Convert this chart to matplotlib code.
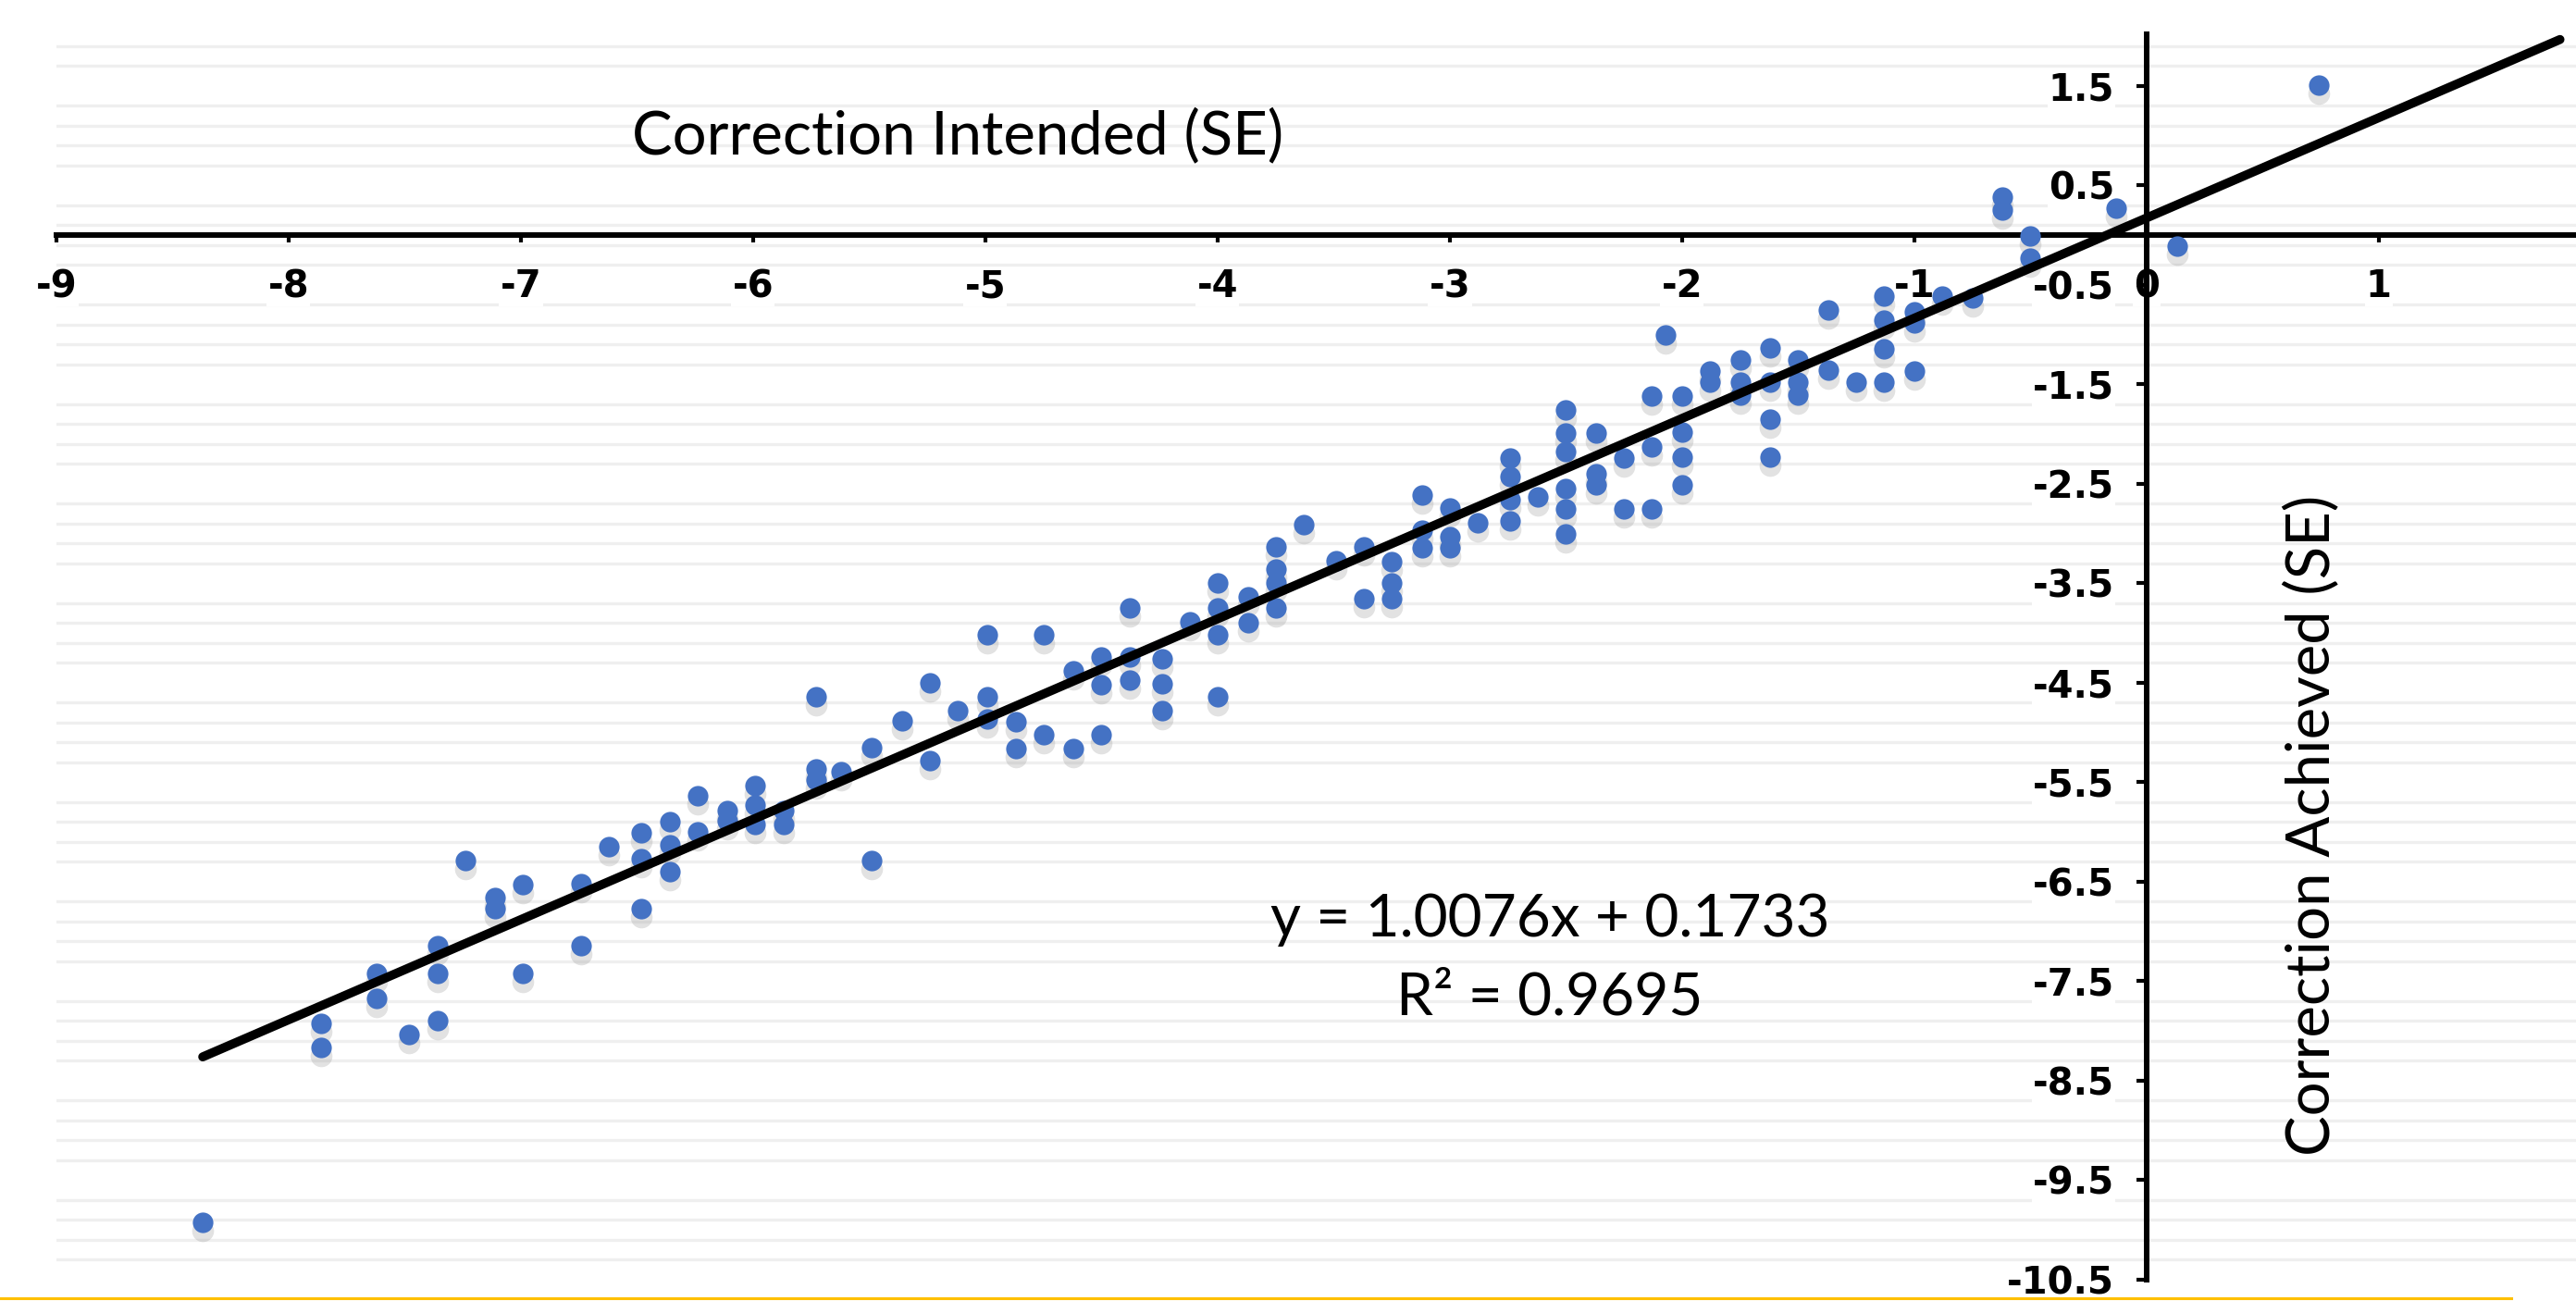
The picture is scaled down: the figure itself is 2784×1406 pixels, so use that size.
import matplotlib
matplotlib.use('Agg')
import matplotlib.pyplot as plt
from matplotlib.lines import Line2D
from matplotlib.transforms import offset_copy
import numpy as np

plt.rcParams['font.family'] = ['Lato', 'DejaVu Sans']

# correction intended vs achieved (SE)
x_intended = [
    -8.37, -7.86, -7.86, -7.62, -7.62, -7.48, -7.36, -7.36, -7.36, -7.24,
    -7.11, -7.11, -6.99, -6.99, -6.74, -6.74, -6.62, -6.48, -6.48, -6.48,
    -6.36, -6.36, -6.36, -6.24, -6.24, -6.11, -6.11, -5.99, -5.99, -5.99,
    -5.87, -5.87, -5.73, -5.73, -5.73, -5.62, -5.49, -5.49, -5.36, -5.24,
    -5.24, -5.12, -4.99, -4.99, -4.99, -4.87, -4.87, -4.75, -4.75, -4.62,
    -4.62, -4.50, -4.50, -4.50, -4.38, -4.38, -4.38, -4.24, -4.24, -4.24,
    -4.12, -4.00, -4.00, -4.00, -4.00, -3.87, -3.87, -3.75, -3.75, -3.75,
    -3.75, -3.63, -3.49, -3.37, -3.37, -3.25, -3.25, -3.25, -3.12, -3.12,
    -3.12, -3.00, -3.00, -3.00, -2.88, -2.74, -2.74, -2.74, -2.74, -2.62,
    -2.50, -2.50, -2.50, -2.50, -2.50, -2.50, -2.37, -2.37, -2.37, -2.25,
    -2.25, -2.13, -2.13, -2.13, -2.00, -2.00, -2.00, -2.00, -2.07, -1.88,
    -1.88, -1.75, -1.75, -1.75, -1.62, -1.62, -1.62, -1.62, -1.50, -1.50,
    -1.50, -1.37, -1.37, -1.25, -1.13, -1.13, -1.13, -1.13, -1.00, -1.00,
    -1.00, -0.88, -0.75, -0.62, -0.62, -0.50, -0.50, -0.13, 0.13, 0.74,
]
y_achieved = [
    -9.92, -7.92, -8.17, -7.42, -7.67, -8.04, -7.14, -7.42, -7.90, -6.29,
    -6.66, -6.77, -6.53, -7.42, -6.52, -7.14, -6.15, -6.01, -6.27, -6.77,
    -5.90, -6.13, -6.40, -5.64, -6.00, -5.78, -5.89, -5.53, -5.73, -5.92,
    -5.78, -5.92, -4.64, -5.37, -5.48, -5.39, -5.15, -6.29, -4.88, -4.50,
    -5.28, -4.78, -4.02, -4.64, -4.86, -4.89, -5.16, -4.02, -5.02, -4.38,
    -5.16, -4.24, -4.52, -5.02, -3.75, -4.24, -4.47, -4.26, -4.51, -4.78,
    -3.89, -3.50, -3.75, -4.02, -4.64, -3.64, -3.90, -3.13, -3.36, -3.50,
    -3.75, -2.91, -3.27, -3.13, -3.65, -3.28, -3.50, -3.65, -2.61, -2.97,
    -3.14, -2.74, -3.03, -3.14, -2.89, -2.24, -2.43, -2.66, -2.87, -2.63,
    -1.76, -1.99, -2.18, -2.55, -2.75, -3.00, -1.99, -2.40, -2.51, -2.24,
    -2.75, -1.62, -2.13, -2.75, -1.62, -1.98, -2.23, -2.51, -1.00, -1.37,
    -1.48, -1.25, -1.48, -1.61, -1.13, -1.48, -1.85, -2.23, -1.25, -1.48,
    -1.61, -0.75, -1.36, -1.48, -0.61, -0.85, -1.14, -1.48, -0.77, -0.88,
    -1.37, -0.61, -0.63, 0.38, 0.25, -0.01, -0.23, 0.27, -0.11, 1.51,
]

# linear trendline as printed on the chart
slope = 1.0076
intercept = 0.1733
r_squared = 0.9695
fit_x = [-8.37, 1.78]

x_ticks = [-9, -8, -7, -6, -5, -4, -3, -2, -1, 0, 1]
x_tick_labels = ['-9', '-8', '-7', '-6', '-5', '-4', '-3', '-2', '-1', '0', '1']
y_ticks = [1.5, 0.5, -0.5, -1.5, -2.5, -3.5, -4.5, -5.5, -6.5, -7.5, -8.5, -9.5, -10.5]
y_tick_labels = ['1.5', '0.5', '-0.5', '-1.5', '-2.5', '-3.5', '-4.5', '-5.5',
                 '-6.5', '-7.5', '-8.5', '-9.5', '-10.5']

fig = plt.figure(figsize=(27.84, 14.06), dpi=100)
ax = fig.add_axes([0.0219, 0.0164, 0.9781, 0.9573])
ax.set_xlim(-9, 1.849)
ax.set_ylim(-10.5, 2.02)

# faint horizontal rules every 0.2, skipping the labelled .5 levels
for g in np.arange(-10.3, 2.0, 0.2):
    if abs((g % 1) - 0.5) > 0.05:
        ax.axhline(g, color='#efefef', lw=2.4, zorder=0.5)

# axes cross at the origin
for side in ['top', 'right']:
    ax.spines[side].set_visible(False)
ax.spines['left'].set_position(('data', 0))
ax.spines['bottom'].set_position(('data', 0))
ax.spines['left'].set_linewidth(4.3)
ax.spines['bottom'].set_linewidth(4.3)

ax.set_xticks(x_ticks)
ax.set_xticklabels(x_tick_labels)
ax.set_yticks(y_ticks)
ax.set_yticklabels(y_tick_labels)
ax.tick_params(axis='x', direction='out', length=6, width=3, pad=20, labelsize=29)
ax.tick_params(axis='y', direction='out', length=8, width=3, pad=17, labelsize=29)
for lab in ax.get_xticklabels() + ax.get_yticklabels():
    lab.set_family(['Liberation Sans Narrow', 'DejaVu Sans'])
    lab.set_fontweight('bold')
    lab.set_bbox(dict(facecolor='white', edgecolor='none', pad=1))

# markers with a soft drop shadow
shadow = offset_copy(ax.transData, fig=fig, x=0, y=-9, units='dots')
ax.plot(x_intended, y_achieved, 'o', color='#8c8c8c', alpha=0.25, ms=17,
        mec='none', transform=shadow, zorder=2.6)
ax.plot(x_intended, y_achieved, 'o', color='#4472C4', ms=16, mec='none', zorder=3)

fit_y = [slope * v + intercept for v in fit_x]
ax.plot(fit_x, fit_y, color='black', lw=7, solid_capstyle='round', zorder=4, clip_on=False)

ax.text(-5.12, 1.0, 'Correction Intended (SE)', fontsize=47, ha='center', va='center')
ax.text(0.71, -5.93, 'Correction Achieved (SE)', fontsize=47, rotation=90,
        ha='center', va='center')
ax.text(-2.57, -7.05, 'y = {}x + {}'.format(slope, intercept), fontsize=46,
        ha='center', va='baseline')
ax.text(-2.57, -7.84, 'R\u00b2 = {}'.format(r_squared), fontsize=46,
        ha='center', va='baseline')

# thin gold rule along the bottom edge
fig.add_artist(Line2D([0, 0.975], [0.0021, 0.0021], color='#FFC000', lw=2.2,
                      transform=fig.transFigure))

fig.savefig('out.png', dpi=100)
